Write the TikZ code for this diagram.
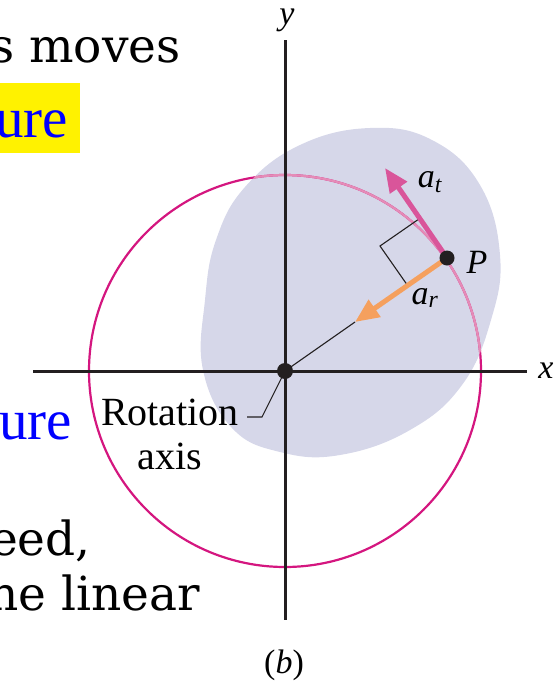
\documentclass[tikz,border=0pt]{standalone}
\usepackage{fontspec}
\setmainfont{Liberation Serif}
\newfontfamily\dvs{DejaVu Serif}
\usetikzlibrary{arrows.meta}
\definecolor{blobc}{HTML}{D6D7E9}
\definecolor{ringc}{HTML}{D4167F}
\definecolor{ringl}{HTML}{E58CB7}
\definecolor{atc}{HTML}{D9559A}
\definecolor{arc}{HTML}{F5A05E}
\definecolor{axc}{HTML}{231F20}
\tikzset{
  bodytext/.style={font=\dvs\fontsize{47}{56}\selectfont, inner sep=0pt},
  bluetext/.style={font=\fontsize{57}{64}\selectfont, text=blue, inner sep=0pt},
  lbl/.style={font=\fontsize{34}{40}\selectfont\itshape, inner sep=0pt},
  axis/.style={draw=axc, line width=3pt},
  thin/.style={draw=axc, line width=1.1pt},
  accel/.style={line width=5pt, -{Triangle[length=24pt,width=20pt]}}
}
\begin{document}
\begin{tikzpicture}[x=1pt,y=-1pt]
\useasboundingbox (0,0) rectangle (557,683);
% surrounding text fragments
\node[bodytext, anchor=base east] (t1) at (181,62) {s moves};
\fill[yellow] (0,83) rectangle (80,153);
\node[bluetext, anchor=base east] (t2) at (68,137) {ure};
\node[bluetext, anchor=base east] (t3) at (72,439) {ure};
\node[bodytext, anchor=base east] (t4) at (91,555) {eed,};
\node[bodytext, anchor=base east] (t5) at (200,610) {he linear};
% blob
\def\blobpath{plot[smooth cycle, tension=0.7] coordinates {(203,370) (205,300) (216,240) (245,187) (300,145) (370,128) (432,140) (480,185) (500,255) (491,320) (462,385) (410,430) (340,455) (280,452) (232,428)}}
\fill[blobc] \blobpath;
% circle
\coordinate (O) at (285,371);
\draw[ringc, line width=2.2pt] (O) circle[radius=196];
\begin{scope}
  \clip \blobpath;
  \draw[ringl, line width=2.2pt] (O) circle[radius=196];
\end{scope}
% axes
\coordinate (yt) at (285,40);
\coordinate (yb) at (285,620);
\coordinate (xl) at (33,371);
\coordinate (xr) at (527,371);
\draw[axis] (yt) -- (yb);
\draw[axis] (xl) -- (xr);
\node[lbl] (ylab) at (287,20) {y};
\node[lbl] (xlab) at (546,371) {x};
% point P and vectors
\coordinate (P) at (447,258);
\coordinate (Rend) at (355,322);
\coordinate (Tend) at (385,168);
\draw[thin] (O) -- (Rend);
\coordinate (c1) at (419.5,218.6);
\coordinate (c2) at (407.6,285.5);
\coordinate (cc) at (380,246);
\draw[thin] (c1) -- (cc) -- (c2);
\draw[accel, atc] (P) -- (Tend);
\draw[accel, arc] (P) -- (Rend);
\fill[axc] (P) circle[radius=7.5];
\fill[axc] (O) circle[radius=8];
\node[lbl] (at) at (430,182) {a\textsubscript{t}};
\node[lbl] (Plab) at (477,262) {P};
\node[lbl] (ar) at (425,298) {a\textsubscript{r}};
% rotation axis label
\node[font=\fontsize{40}{44}\selectfont, align=center, inner sep=0pt] (rot) at (170,434) {Rotation\\axis};
\coordinate (l1) at (247,417);
\coordinate (l2) at (262,417);
\draw[thin] (l1) -- (l2) -- (O);
% caption
\node[font=\fontsize{34}{40}\selectfont, inner sep=0pt] (cap) at (284,665) {(\textit{b})};
\end{tikzpicture}
\end{document}
